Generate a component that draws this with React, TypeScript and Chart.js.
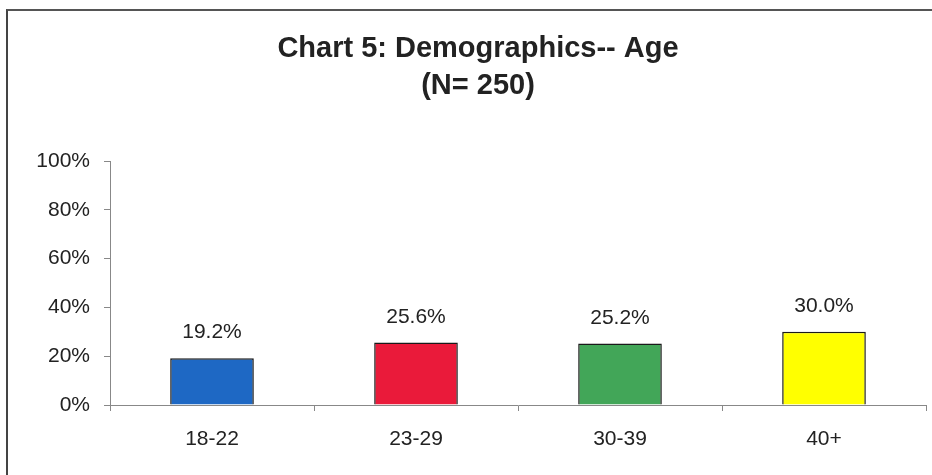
import React, { useEffect, useRef } from "react";
import { Chart, registerables } from "chart.js";

Chart.register(...registerables);

const categories = ["18-22", "23-29", "30-39", "40+"];
const values = [19.2, 25.6, 25.2, 30.0];
const barColors = ["rgb(30,104,196)", "rgb(234,26,58)", "rgb(66,166,88)", "rgb(255,255,0)"];
const titleLines = ["Chart 5: Demographics-- Age", "(N= 250)"];
const yTicks = [0, 20, 40, 60, 80, 100];

const FONT = "'Liberation Sans', Arial, sans-serif";

const valueLabels = {
  id: "valueLabels",
  afterDatasetsDraw(chart: any) {
    const ctx = chart.ctx;
    const meta = chart.getDatasetMeta(0);
    ctx.save();
    ctx.font = `21px ${FONT}`;
    ctx.fillStyle = "#222";
    ctx.textAlign = "center";
    ctx.textBaseline = "alphabetic";
    meta.data.forEach((bar: any, i: number) => {
      ctx.fillText(values[i].toFixed(1) + "%", bar.x, bar.y - 20);
    });
    ctx.restore();
  },
};

export default function App() {
  const ref = useRef<HTMLCanvasElement>(null);
  useEffect(() => {
    document.body.style.margin = "0";
    if (!ref.current) return;
    const chart = new Chart(ref.current, {
      type: "bar",
      data: {
        labels: categories,
        datasets: [
          {
            data: values,
            backgroundColor: barColors,
            borderColor: "#1a1a1a",
            borderWidth: 1.5,
            barPercentage: 0.41,
            categoryPercentage: 1,
          },
        ],
      },
      options: {
        responsive: false,
        animation: false,
        layout: { padding: { left: 30, right: 6, top: 0, bottom: 0 } },
        plugins: {
          legend: { display: false },
          tooltip: { enabled: false },
          title: {
            display: true,
            text: titleLines,
            color: "#222",
            font: { family: FONT, size: 29, weight: "bold", lineHeight: 37 / 29 },
            padding: { top: 30, bottom: 57 },
          },
        },
        scales: {
          x: {
            grid: {
              offset: true,
              drawOnChartArea: false,
              drawTicks: true,
              tickLength: 6,
              color: "#888",
            },
            border: { display: true, color: "#888", width: 1 },
            ticks: { color: "#222", font: { family: FONT, size: 21 }, padding: 16 },
            afterFit: (s: any) => {
              s.height = 70;
            },
          },
          y: {
            min: 0,
            max: 100,
            afterBuildTicks: (s: any) => {
              s.ticks = yTicks.map((v) => ({ value: v }));
            },
            grid: {
              drawOnChartArea: false,
              drawTicks: true,
              tickLength: 6,
              color: "#888",
            },
            border: { display: true, color: "#888", width: 1 },
            ticks: {
              color: "#222",
              font: { family: FONT, size: 21 },
              padding: 14,
              callback: (v: any) => v + "%",
            },
            afterFit: (s: any) => {
              s.width = 80;
            },
          },
        },
      },
      plugins: [valueLabels],
    });
    return () => chart.destroy();
  }, []);

  return (
    <div style={{ position: "relative", width: 932, height: 475, overflow: "hidden", background: "#fff" }}>
      <canvas ref={ref} width={932} height={475} style={{ position: "absolute", left: 0, top: 0 }} />
      <div
        style={{
          position: "absolute",
          left: 6,
          top: 9,
          width: 960,
          height: 500,
          borderLeft: "2px solid #444",
          borderTop: "2px solid #555",
          pointerEvents: "none",
        }}
      />
    </div>
  );
}
